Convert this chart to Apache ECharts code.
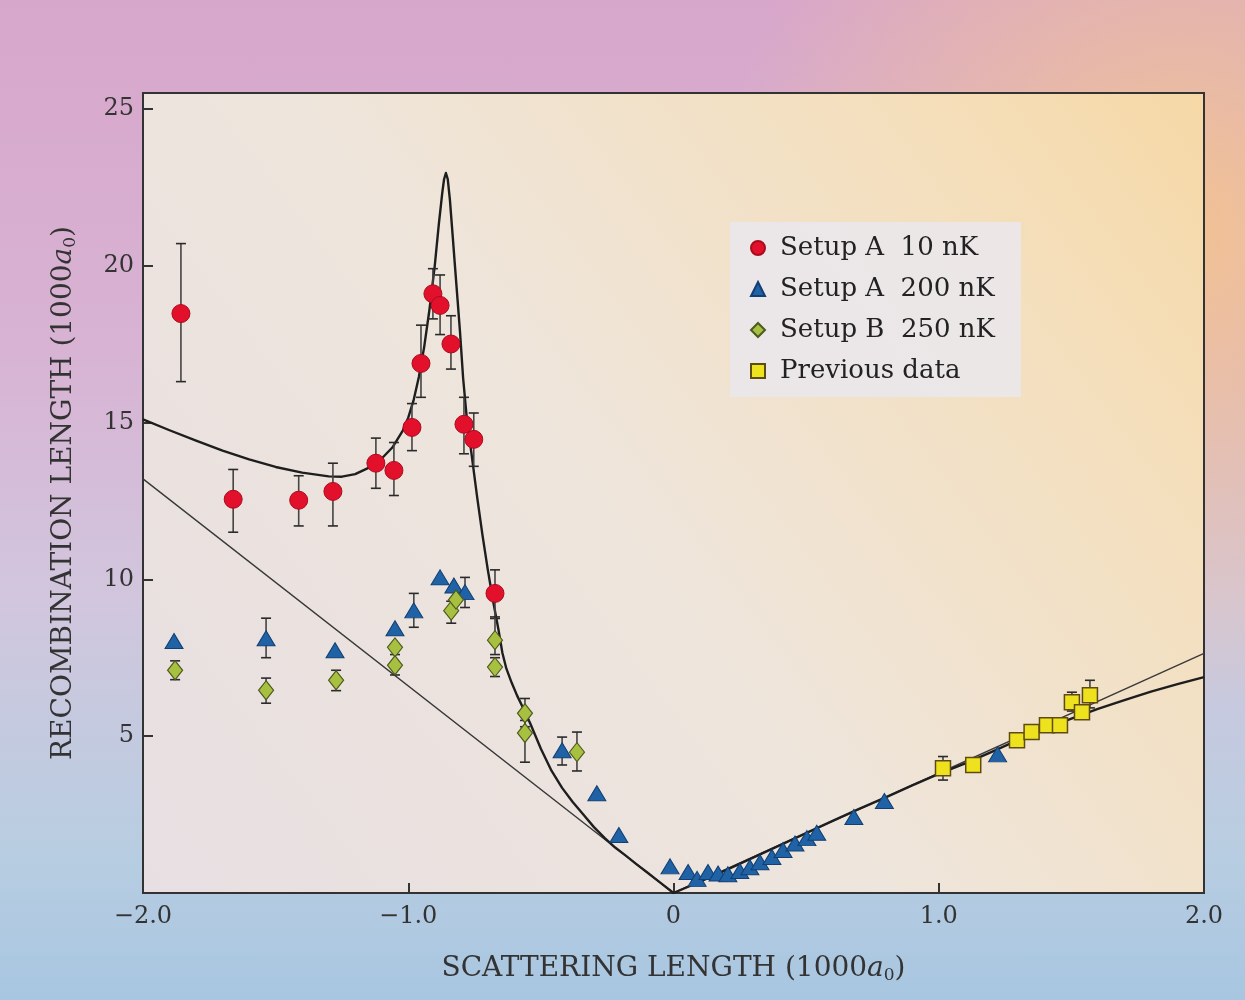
<!DOCTYPE html>
<html><head><meta charset="utf-8">
<script src="https://cdn.jsdelivr.net/npm/echarts@6/dist/echarts.min.js"></script>
<style>
html,body{margin:0;padding:0;width:1245px;height:1000px;overflow:hidden}
body{background:
 radial-gradient(ellipse 620px 640px at 1180px 230px, rgba(244,196,140,0.9), rgba(244,196,140,0) 75%),
 linear-gradient(180deg, #d7a6cb 0%, #d8b3d3 35%, #d1c6dd 60%, #b8cde1 85%, #a8c6e1 100%);}
#c{width:1245px;height:1000px}
</style></head><body><div id="c"></div>
<script>
// ---- data ----
var xTicks = [-2, -1, 0, 1, 2];
var yTicks = [5, 10, 15, 20, 25];

var redPts = [[-1.857,18.47],[-1.66,12.55],[-1.413,12.52],[-1.284,12.8],[-1.122,13.7],[-1.054,13.47],
  [-0.986,14.84],[-0.952,16.88],[-0.907,19.1],[-0.880,18.73],[-0.839,17.5],[-0.790,14.94],[-0.753,14.46],[-0.673,9.55]];
var redErr = [[-1.857,16.3,20.7],[-1.66,11.5,13.5],[-1.413,11.7,13.3],[-1.284,11.7,13.7],[-1.122,12.9,14.5],[-1.054,12.67,14.36],
  [-0.986,14.1,15.6],[-0.952,15.8,18.1],[-0.907,18.3,19.9],[-0.880,17.8,19.7],[-0.839,16.7,18.4],[-0.790,14.0,15.8],[-0.753,13.6,15.3],[-0.673,8.75,10.3]];

var bluePts = [[-1.883,8.03],[-1.536,8.12],[-1.276,7.74],[-1.05,8.44],[-0.979,9.01],[-0.880,10.06],[-0.828,9.8],[-0.786,9.59],
  [-0.42,4.55],[-0.289,3.18],[-0.206,1.85],[-0.013,0.85],[0.055,0.67],[0.089,0.45],[0.13,0.67],[0.168,0.62],[0.205,0.6],
  [0.25,0.7],[0.288,0.82],[0.326,0.98],[0.371,1.15],[0.413,1.37],[0.458,1.58],[0.503,1.75],[0.54,1.92],[0.68,2.42],[0.795,2.93],[1.222,4.42]];
var blueErr = [[-1.536,7.5,8.76],[-0.979,8.47,9.55],[-0.786,9.1,10.06],[-0.42,4.08,4.97]];

var greenPts = [[-1.879,7.1],[-1.536,6.46],[-1.272,6.78],[-1.05,7.83],[-1.05,7.26],[-0.838,9.0],[-0.82,9.35],
  [-0.673,8.06],[-0.673,7.2],[-0.56,5.73],[-0.56,5.1],[-0.364,4.49]];
var greenErr = [[-1.879,6.8,7.4],[-1.536,6.05,6.85],[-1.272,6.45,7.1],[-1.05,6.95,7.6],[-0.838,8.6,9.3],
  [-0.673,7.6,8.8],[-0.673,6.9,7.5],[-0.56,5.3,6.2],[-0.56,4.17,5.5],[-0.364,3.89,5.13]];

var yellowPts = [[1.016,3.98],[1.13,4.08],[1.295,4.87],[1.35,5.13],[1.408,5.35],[1.457,5.35],[1.502,6.08],[1.54,5.76],[1.57,6.3]];
var yellowErr = [[1.016,3.6,4.35],[1.502,5.8,6.4],[1.57,5.9,6.78]];

// theory curve
var theoryCurve = [[-2.0,15.1],[-1.9,14.75],[-1.8,14.42],[-1.7,14.1],[-1.6,13.82],[-1.5,13.58],[-1.4,13.4],[-1.3,13.28],
  [-1.25,13.27],[-1.2,13.35],[-1.15,13.55],[-1.1,13.85],[-1.06,14.2],[-1.02,14.75],[-1.0,15.15],[-0.98,15.7],
  [-0.96,16.45],[-0.94,17.4],[-0.92,18.6],[-0.9,20.0],[-0.885,21.3],[-0.872,22.3],[-0.865,22.75],[-0.858,22.95],
  [-0.851,22.75],[-0.843,22.1],[-0.833,21.0],[-0.824,20.0],[-0.814,18.9],[-0.805,17.9],[-0.793,16.4],[-0.78,15.2],
  [-0.76,13.9],[-0.74,12.6],[-0.72,11.4],[-0.70,10.3],[-0.68,9.3],[-0.66,8.4],[-0.645,7.65],[-0.63,7.15],
  [-0.61,6.7],[-0.59,6.3],[-0.567,5.9],[-0.54,5.4],[-0.50,4.6],[-0.46,3.9],[-0.42,3.35],[-0.38,2.9],[-0.34,2.5],
  [-0.30,2.1],[-0.26,1.76],[-0.22,1.45],[-0.18,1.19],[-0.14,0.92],[-0.10,0.66],[-0.05,0.33],[0,0],
  [0.1,0.36],[0.2,0.74],[0.3,1.13],[0.4,1.52],[0.5,1.91],[0.6,2.3],[0.7,2.68],[0.8,3.05],[0.9,3.43],[1.0,3.8],
  [1.1,4.13],[1.2,4.5],[1.3,4.88],[1.4,5.23],[1.5,5.56],[1.6,5.87],[1.7,6.15],[1.8,6.42],[1.9,6.66],[2.0,6.88]];
var thinLine = [[-2.0,13.2],[0,0],[2.0,7.64]];

var legendNames = ['Setup A  10 nK','Setup A  200 nK','Setup B  250 nK','Previous data'];

// ---- chart ----
var FONT = 'DejaVu Serif';
var chart = echarts.init(document.getElementById('c'), null, {renderer:'canvas'});

function errItem(params, api){
  var x = api.value(0), lo = api.value(1), hi = api.value(2);
  var p1 = api.coord([x, hi]), p2 = api.coord([x, lo]);
  var w = 5, st = {stroke:'#2a2a2a', lineWidth:1.6};
  return {type:'group', children:[
    {type:'line', shape:{x1:p1[0],y1:p1[1],x2:p2[0],y2:p2[1]}, style:{stroke:'#444', lineWidth:1.6}},
    {type:'line', shape:{x1:p1[0]-w,y1:p1[1],x2:p1[0]+w,y2:p1[1]}, style:st},
    {type:'line', shape:{x1:p2[0]-w,y1:p2[1],x2:p2[0]+w,y2:p2[1]}, style:st}
  ]};
}
function errSeries(d){
  return {type:'custom', renderItem:errItem, data:d, z:3, silent:true,
    encode:{x:0, y:[1,2]}, clip:true};
}
function fmtX(v){ if (Math.abs(v) < 1e-9) return '0'; return (v<0?'\u2212':'') + Math.abs(v).toFixed(1); }
var nameStyle = {fontFamily:FONT, fontSize:28, color:'#333',
  rich:{i:{fontFamily:FONT, fontStyle:'italic', fontSize:28, color:'#333'},
        s:{fontFamily:FONT, fontSize:17, color:'#333', verticalAlign:'bottom', padding:[14,0,0,0]}}};

var option = {
  animation:false,
  backgroundColor:'transparent',
  grid:{left:143, right:41, top:93, bottom:107, show:true,
    borderColor:'#333', borderWidth:2,
    backgroundColor:new echarts.graphic.LinearGradient(0,1,1,0,[
      {offset:0, color:'#e7dfe2'},{offset:0.45, color:'#eee5dc'},{offset:0.8, color:'#f4dfbd'},{offset:1, color:'#f6d8a6'}])},
  legend:{
    orient:'vertical', left:730, top:222, padding:[13,26,13,20],
    backgroundColor:'rgba(234,232,237,0.85)', borderWidth:0,
    itemWidth:14, itemHeight:14, itemGap:15,
    textStyle:{fontFamily:FONT, fontSize:26, color:'#222', padding:[0,0,0,10]},
    data:[
      {name:legendNames[0], icon:'circle'},
      {name:legendNames[1], icon:'triangle'},
      {name:legendNames[2], icon:'diamond'},
      {name:legendNames[3], icon:'rect'}
    ]
  },
  xAxis:{type:'value', min:-2, max:2, interval:1,
    name:'SCATTERING LENGTH (1000{i|a}{s|0})', nameLocation:'middle', nameGap:60,
    nameTextStyle:nameStyle,
    axisLine:{show:true, onZero:false, lineStyle:{color:'#333', width:2}},
    axisTick:{show:true, inside:true, length:10, lineStyle:{color:'#333', width:2}},
    axisLabel:{fontFamily:FONT, fontSize:24, color:'#333', margin:12, formatter:fmtX},
    splitLine:{show:false}
  },
  yAxis:{type:'value', min:0, max:25.5, interval:5,
    name:'RECOMBINATION LENGTH (1000{i|a}{s|0})', nameLocation:'middle', nameGap:64, nameRotate:90,
    nameTextStyle:nameStyle,
    axisLine:{show:true, onZero:false, lineStyle:{color:'#333', width:2}},
    axisTick:{show:true, inside:true, length:10, lineStyle:{color:'#333', width:2}},
    axisLabel:{fontFamily:FONT, fontSize:24, color:'#333', margin:9, showMinLabel:false,
      formatter:function(v){ return (yTicks.indexOf(v) >= 0) ? String(v) : ''; }},
    splitLine:{show:false}
  },
  series:[
    {type:'line', data:thinLine, symbol:'none', z:2, silent:true,
      lineStyle:{color:'#3a3a3a', width:1.4}},
    {type:'line', data:theoryCurve, symbol:'none', smooth:false, z:2, silent:true,
      lineStyle:{color:'#1e1e1e', width:2.4, join:'round'}},
    errSeries(redErr), errSeries(blueErr), errSeries(greenErr), errSeries(yellowErr),
    {name:legendNames[0], type:'scatter', data:redPts, symbol:'circle', symbolSize:18, z:5,
      itemStyle:{color:'#e3102b', borderColor:'#a80c1e', borderWidth:1, opacity:1}},
    {name:legendNames[1], type:'scatter', data:bluePts, symbol:'triangle', symbolSize:[18,15], z:5,
      itemStyle:{color:'#1f62a6', borderColor:'#123f72', borderWidth:1, opacity:1}},
    {name:legendNames[2], type:'scatter', data:greenPts, symbol:'diamond', symbolSize:[15,19], z:5,
      itemStyle:{color:'#a8c040', borderColor:'#4d5a1e', borderWidth:1.2, opacity:1}},
    {name:legendNames[3], type:'scatter', data:yellowPts, symbol:'rect', symbolSize:15, z:5,
      itemStyle:{color:'#eee11e', borderColor:'#5e4b12', borderWidth:1.5, opacity:1}}
  ]
};
chart.setOption(option);
</script></body></html>
